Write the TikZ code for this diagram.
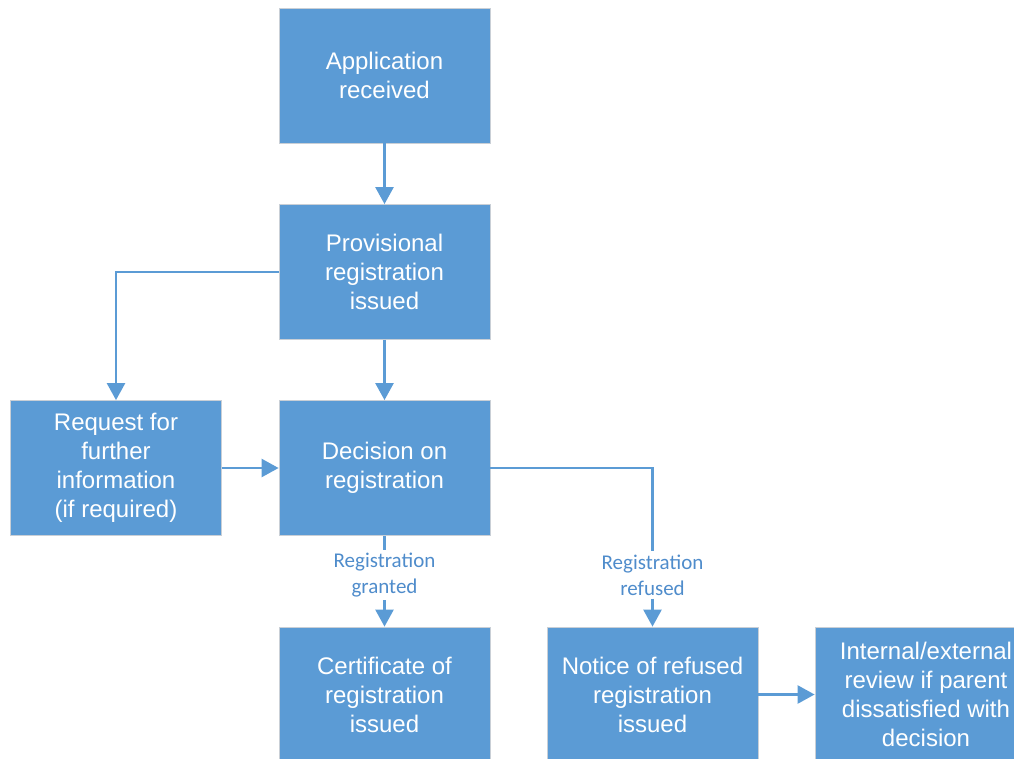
\documentclass[tikz,border=0pt]{standalone}
\usepackage{fontspec}
\setmainfont{Liberation Sans}
\newfontfamily\labelfont{Carlito}
\usetikzlibrary{arrows.meta}
\definecolor{boxblue}{HTML}{5B9BD5}
\definecolor{labelblue}{HTML}{4F8CCB}
\definecolor{boxedge}{HTML}{C9CFD6}
\begin{document}
\begin{tikzpicture}[x=1pt, y=-1pt,
    stage/.style={draw=boxedge, line width=0.8pt, fill=boxblue, text=white,
      minimum width=211pt, minimum height=135pt, align=center,
      font=\fontsize{24}{29}\selectfont},
    outcome/.style={text=labelblue, align=center, inner sep=3pt,
      font=\labelfont\fontsize{21}{26}\selectfont},
    flow/.style={draw=boxblue, line width=2.5pt},
    >={Triangle[width=18pt,length=17pt]}]
    \useasboundingbox (0,0) rectangle (1014,758);
    \clip (0,0) rectangle (1014,758);
    % boxes
    \node [stage] (app) at (384.5,75.5) {Application\\received};
    \node [stage] (prov) at (384.5,272) {Provisional\\registration\\issued};
    \node [stage] (req) at (116,468) {Request for\\further\\information\\(if required)};
    \node [stage] (dec) at (384.5,468) {Decision on\\registration};
    \node [stage] (cert) at (384.5,694.5) {Certificate of\\registration\\issued};
    \node [stage] (notice) at (652.5,694.5) {Notice of refused\\registration\\issued};
    \node [stage, minimum width=222pt] (review) at (926,694.5) {Internal/external\\review if parent\\dissatisfied with\\decision};
    % outcome labels
    \node [outcome] (granted) at (384.5,575) {Registration\\granted};
    \node [outcome] (refused) at (652.5,575) {Registration\\refused};
    % connectors
    \draw [flow, ->] (app) -- (prov);
    \draw [flow, ->] (prov) -- (dec);
    \draw [flow, ->] (prov.west) -| (req.north);
    \draw [flow, ->] (req) -- (dec);
    \draw [flow] (dec) -- (granted);
    \draw [flow, ->] (granted) -- (cert);
    \draw [flow] (dec.east) -| (refused.north);
    \draw [flow, ->] (refused) -- (notice);
    \draw [flow, ->] (notice) -- (review);
\end{tikzpicture}
\end{document}
